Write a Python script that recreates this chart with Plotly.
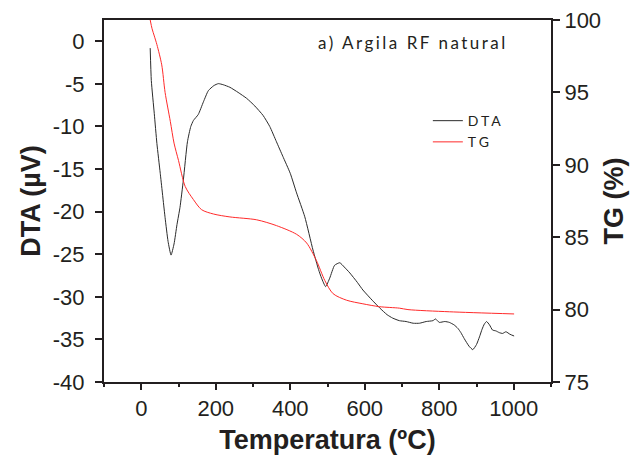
import plotly.graph_objects as go

# DTA curve
dta_temp = [24, 27, 35, 42, 51, 64, 72, 80, 88, 96, 104, 113, 124, 133, 140, 153, 167, 180, 195, 207,
            220, 238, 260, 283, 305, 327, 345, 363, 380, 400, 417, 439, 461, 476, 484, 495, 506, 519,
            533, 545, 560, 580, 595, 620, 640, 660, 675, 693, 711, 730, 747, 765, 783, 790, 800, 815,
            827, 840, 850, 858, 867, 880, 890, 900, 908, 915, 921, 927, 935, 943, 952, 961, 970, 979,
            990, 1001]
dta_vals = [-0.8, -4.6, -8.5, -12.0, -15.5, -20.7, -23.5, -25.1, -23.8, -21.5, -19.5, -16.3, -11.8,
            -10.0, -9.3, -8.6, -7.1, -5.8, -5.2, -4.97, -5.1, -5.4, -6.0, -6.7, -7.6, -8.7, -10.0,
            -11.8, -13.5, -15.5, -17.8, -20.6, -24.5, -26.8, -27.8, -28.8, -27.8, -26.3, -26.0,
            -26.5, -27.2, -28.3, -29.2, -30.4, -31.3, -32.1, -32.5, -32.8, -32.9, -33.1, -33.1,
            -32.9, -32.8, -32.6, -33.0, -32.9, -33.0, -33.3, -33.7, -34.2, -34.9, -35.8, -36.2,
            -35.6, -34.7, -33.8, -33.2, -32.9, -33.3, -33.9, -34.0, -34.2, -34.3, -34.1, -34.4,
            -34.6]

# TG curve
tg_temp = [24, 29, 35, 42, 55, 64, 78, 88, 100, 118, 140, 162, 194, 238, 310, 363, 417, 444, 470,
           493, 515, 551, 595, 640, 693, 716, 827, 1001]
tg_vals = [100.0, 99.4, 98.9, 98.3, 96.9, 95.0, 93.0, 91.5, 90.3, 88.5, 87.6, 86.9, 86.6, 86.4,
           86.2, 85.8, 85.2, 84.6, 83.4, 82.0, 81.1, 80.65, 80.4, 80.2, 80.1, 80.0, 79.85, 79.7]

x_ticks = [0, 200, 400, 600, 800, 1000]
dta_ticks = [0, -5, -10, -15, -20, -25, -30, -35, -40]
dta_tick_labels = ["0", "-5", "-10", "-15", "-20", "-25", "-30", "-35", "-40"]
tg_ticks = [75, 80, 85, 90, 95, 100]

AX = "#231f20"
tickfont = dict(family="Liberation Sans, Arial, sans-serif", size=22, color=AX)
titlefont = dict(family="Liberation Sans, Arial, sans-serif", size=27, color=AX, weight="bold")

fig = go.Figure()
fig.add_trace(go.Scatter(x=dta_temp, y=dta_vals, mode="lines",
                         name='<span style="letter-spacing:3px">DTA</span>',
                         line=dict(color="#2b2b2b", width=1, shape="spline", smoothing=0.5)))
fig.add_trace(go.Scatter(x=tg_temp, y=tg_vals, mode="lines", yaxis="y2",
                         name='<span style="letter-spacing:3px">TG</span>',
                         line=dict(color="#ff2a2a", width=1, shape="spline", smoothing=0.8)))

fig.update_layout(
    width=633, height=457,
    margin=dict(l=104, r=82, t=20, b=75, autoexpand=False),
    paper_bgcolor="white", plot_bgcolor="white",
    showlegend=True,
    legend=dict(x=0.7245, y=0.765, xanchor="left", yanchor="top",
                font=dict(family="Lato, sans-serif", size=14, color=AX),
                bgcolor="rgba(0,0,0,0)", borderwidth=0, tracegroupgap=0),
    xaxis=dict(range=[-100, 1100], tickvals=x_ticks, ticks="outside", ticklen=6, tickwidth=1.5,
               tickcolor=AX, showline=True, linewidth=2, linecolor=AX, mirror=True,
               showgrid=False, zeroline=False, tickfont=tickfont, automargin=False,
               minor=dict(dtick=100, tick0=0, ticks="outside", ticklen=3, tickcolor=AX, showgrid=False),
               title=dict(text="Temperatura (ºC)", font=titlefont, standoff=10)),
    yaxis=dict(range=[-40, 2.5], tickvals=dta_ticks, ticktext=dta_tick_labels, ticks="outside",
               ticklen=7, tickwidth=1.5,
               tickcolor=AX, showline=True, linewidth=2, linecolor=AX, ticklabelstandoff=6,
               showgrid=False, zeroline=False, tickfont=tickfont, automargin=False,
               title=dict(text="DTA (µV)", font=titlefont, standoff=4)),
    yaxis2=dict(range=[75, 100], tickvals=tg_ticks, ticks="outside", ticklen=7, tickwidth=1.5,
                tickcolor=AX, showline=True, linewidth=2, linecolor=AX, overlaying="y", side="right",
                showgrid=False, zeroline=False, tickfont=tickfont, automargin=False,
                title=dict(text="TG (%)", font=titlefont, standoff=4)),
    annotations=[dict(x=0.475, y=0.938, xref="paper", yref="paper", xanchor="left", yanchor="middle",
                      showarrow=False,
                      text='<span style="letter-spacing:2.5px">a) Argila RF natural</span>',
                      font=dict(family="Lato, sans-serif", size=17, color=AX))],
)

fig.write_html("out.html", config={"displayModeBar": False},
               post_script="document.body.style.margin='0';")
